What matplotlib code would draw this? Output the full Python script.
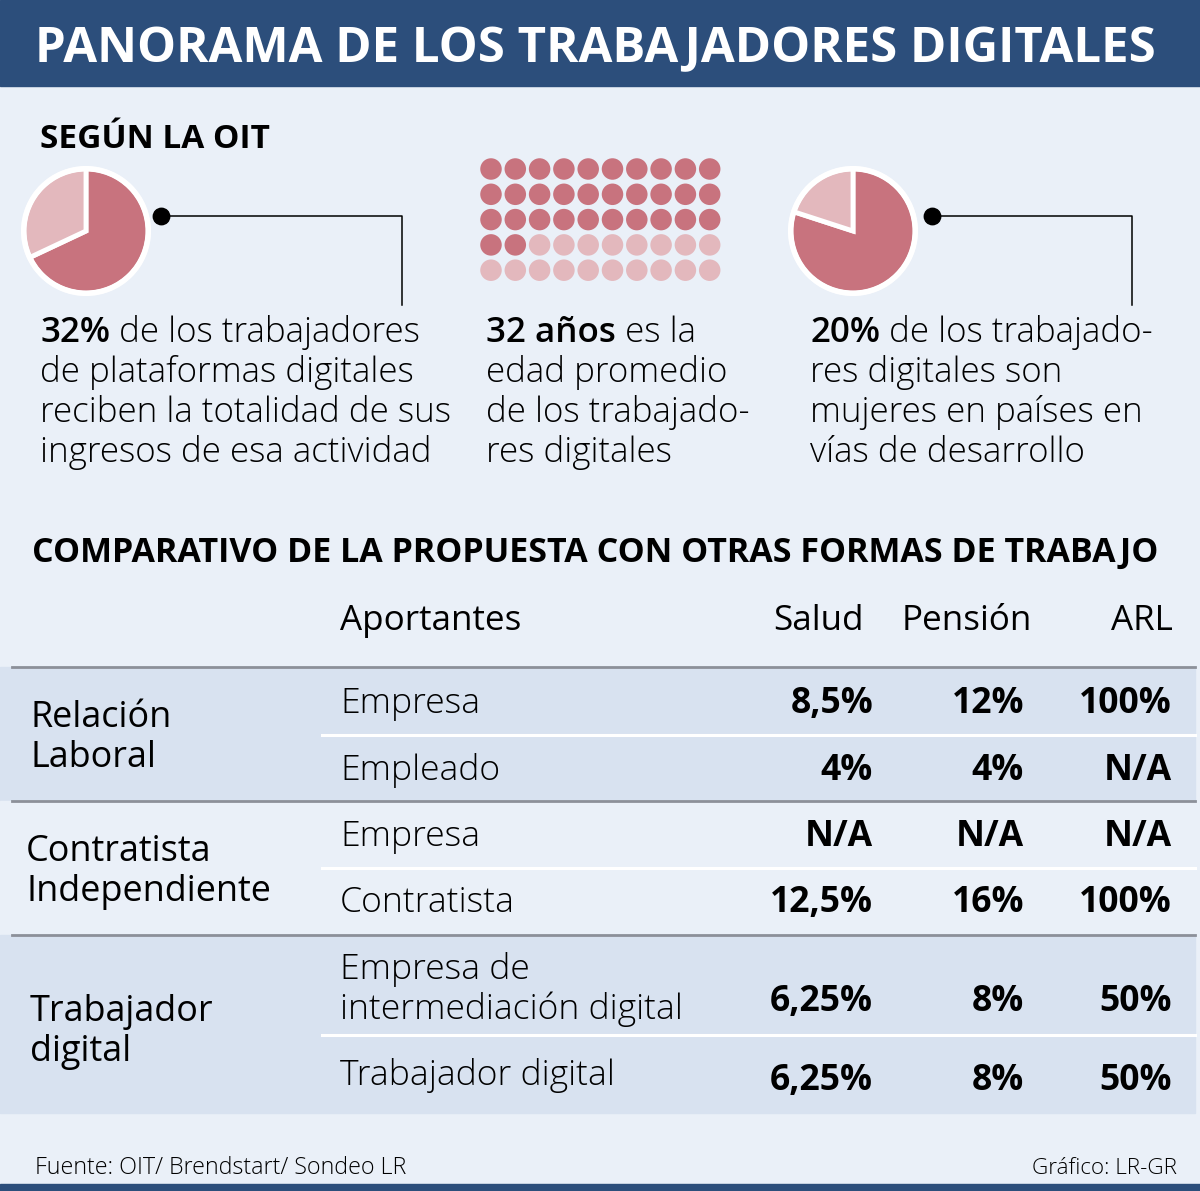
import matplotlib
matplotlib.use("Agg")
import matplotlib.pyplot as plt
import numpy as np

# ---------------- data ----------------
title = "PANORAMA DE LOS TRABAJADORES DIGITALES"
subtitle = "SEGÚN LA OIT"
pie1_values = [68, 32]          # rest, 32% reciben totalidad de ingresos
pie2_values = [80, 20]          # rest, 20% mujeres
dots_total = 50
dots_highlight = 32             # 32 años
dots_cols = 10

para1 = ["32%", " de los trabajadores", "de plataformas digitales",
         "reciben la totalidad de sus", "ingresos de esa actividad"]
para2 = ["32 años", " es la", "edad promedio", "de los trabajado-", "res digitales"]
para3 = ["20%", " de los trabajado-", "res digitales son",
         "mujeres en países en", "vías de desarrollo"]

table_title = "COMPARATIVO DE LA PROPUESTA CON OTRAS FORMAS DE TRABAJO"
col_headers = ["Aportantes", "Salud", "Pensión", "ARL"]
groups = ["Relación\nLaboral", "Contratista\nIndependiente", "Trabajador\ndigital"]
aportantes = [["Empresa", "Empleado"],
              ["Empresa", "Contratista"],
              ["Empresa de\nintermediación digital", "Trabajador digital"]]
salud = [["8,5%", "4%"], ["N/A", "12,5%"], ["6,25%", "6,25%"]]
pension = [["12%", "4%"], ["N/A", "16%"], ["8%", "8%"]]
arl = [["100%", "N/A"], ["N/A", "100%"], ["50%", "50%"]]

source = "Fuente: OIT/ Brendstart/ Sondeo LR"
credit = "Gráfico: LR-GR"

# ---------------- style ----------------
W, H = 1200, 1191
BG = "#eaf0f8"
BAND = "#d8e2f0"
NAVY = "#2c4e7b"
DARK = "#c8737e"
LIGHT = "#e3b8bd"
LINE = "#8c9099"
FONT = "Open Sans"
PX = 72 / 100.0  # px -> pt

fig = plt.figure(figsize=(W / 100, H / 100), dpi=100)
fig.patch.set_facecolor(BG)
ax = fig.add_axes([0, 0, 1, 1])
ax.set_xlim(0, W)
ax.set_ylim(H, 0)
ax.axis("off")
ax.set_facecolor(BG)
renderer = fig.canvas.get_renderer()

def txt(x, y, s, size, weight="normal", ha="left", color="black", **kw):
    return ax.text(x, y, s, fontsize=size * PX, fontweight=weight, ha=ha, va="baseline",
                   color=color, family=FONT, **kw)

def fit(t, width_px):
    bb = t.get_window_extent(renderer=renderer)
    t.set_fontsize(t.get_fontsize() * width_px / bb.width)

def right_edge(t):
    bb = t.get_window_extent(renderer=renderer)
    return ax.transData.inverted().transform((bb.x1, bb.y0))[0]

# header band
ax.add_patch(plt.Rectangle((0, 0), W, 86, color=NAVY, zorder=1))
t = txt(35, 62, title, 50, weight="bold", color="white")
fit(t, 1122)
ax.add_patch(plt.Rectangle((0, 1184), W, 7, color=NAVY, zorder=1))

t = txt(40, 148, subtitle, 35, weight="bold")
fit(t, 230)

# pies
def pie_at(cx, cy, r, vals):
    pax = fig.add_axes([(cx - r) / W, 1 - (cy + r) / H, 2 * r / W, 2 * r / H])
    pax.pie(vals, colors=[DARK, LIGHT], startangle=90, counterclock=False,
            wedgeprops=dict(edgecolor="white", linewidth=3.5))
    pax.add_patch(plt.Circle((0, 0), 1.0, fill=False, edgecolor="white", lw=4))
    pax.set_xlim(-1.06, 1.06)
    pax.set_ylim(-1.06, 1.06)
    pax.set_aspect("equal")
    pax.axis("off")

pie_at(86, 231, 66, pie1_values)
pie_at(853, 231, 66, pie2_values)

# connectors
for (dx, lx) in [(161, 402), (932, 1132)]:
    ax.plot([dx, lx, lx], [216, 216, 305], color="black", lw=1.1, zorder=3)
    ax.scatter([dx], [216], s=140, color="black", zorder=4)

# dot grid
idx = np.arange(dots_total)
gx = 491 + (idx % dots_cols) * 24.3
gy = 169 + (idx // dots_cols) * 25.3
cols = [DARK if i < dots_highlight else LIGHT for i in idx]
ax.scatter(gx, gy, s=(21.5 * PX) ** 2, c=cols, linewidths=0, zorder=3)

# paragraphs
PS = 35
def para(x, lines):
    y0 = 342
    t = txt(x, y0, lines[0], PS, weight="semibold")
    txt(right_edge(t), y0, lines[1], PS, weight="light")
    for i, l in enumerate(lines[2:]):
        txt(x, y0 + 40 * (i + 1), l, PS, weight="light")

para(40, para1)
para(486, para2)
para(810, para3)

# table
t = txt(32, 562, table_title, 36, weight="bold")
fit(t, 1128)
txt(340, 630, col_headers[0], 35)
txt(864, 630, col_headers[1], 35, ha="right")
txt(1032, 630, col_headers[2], 35, ha="right")
txt(1173, 630, col_headers[3], 35, ha="right")

bands = [(667, 801, BAND), (801, 935, BG), (935, 1113, BAND)]
for (y0, y1, c) in bands:
    ax.add_patch(plt.Rectangle((0, y0), 1195, y1 - y0, color=c, zorder=1))
for y in [667, 801, 935]:
    ax.plot([12, 1195], [y, y], color=LINE, lw=2, zorder=2)
for y in [735, 868, 1035]:
    ax.plot([322, 1195], [y, y], color="white", lw=2.2, zorder=2)

group_base = [(727, 30), (861, 26), (1021, 30)]
sub_base = [[713, 780], [846, 912], [979, 1085]]
val_base = [[713, 780], [846, 912], [1011, 1090]]
for g in range(3):
    gy0, gx0 = group_base[g]
    for i, l in enumerate(groups[g].split("\n")):
        txt(gx0, gy0 + 40 * i, l, 36)
    for s in range(2):
        for i, l in enumerate(aportantes[g][s].split("\n")):
            txt(340, sub_base[g][s] + 40 * i, l, 35.5, weight="light")
        yb = val_base[g][s]
        txt(873, yb, salud[g][s], 35.5, weight="bold", ha="right")
        txt(1024, yb, pension[g][s], 35.5, weight="bold", ha="right")
        txt(1172, yb, arl[g][s], 35.5, weight="bold", ha="right")

t = txt(35, 1174, source, 22, weight="light")
fit(t, 372)
txt(1177, 1174, credit, 22.5, weight="light", ha="right")

fig.savefig("out.png", dpi=100, facecolor=BG)
